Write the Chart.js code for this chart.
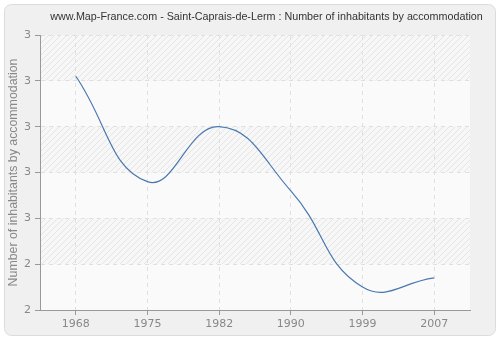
<!DOCTYPE html>
<html>
<head>
<meta charset="utf-8">
<script src="https://cdn.jsdelivr.net/npm/chart.js@4.4.7/dist/chart.umd.min.js"></script>
<style>
  html, body { margin: 0; padding: 0; background: #ffffff; }
  #wrap { width: 500px; height: 340px; position: relative; }
</style>
</head>
<body>
<div id="wrap"><canvas id="chart" width="500" height="340"></canvas></div>
<script>
  var years = ["1968", "1975", "1982", "1990", "1999", "2007"];
  var inhabitants = [2.81, 2.58, 2.70, 2.56, 2.35, 2.37];
  var tickValues = [2.3, 2.4, 2.5, 2.6, 2.7, 2.8, 2.9];
  var tickLabels = ["2", "2", "3", "3", "3", "3", "3"];

  var titleText = "www.Map-France.com - Saint-Caprais-de-Lerm : Number of inhabitants by accommodation";
  var yTitleText = "Number of inhabitants by accommodation";
  var fontFamily = "'DejaVu Sans', Verdana, sans-serif";
  var titleFamily = "'Liberation Sans', Arial, sans-serif";

  function hatchPattern(ctx) {
    var c = document.createElement("canvas");
    c.width = 6;
    c.height = 6;
    var p = c.getContext("2d");
    p.fillStyle = "#f7f7f7";
    p.fillRect(0, 0, 6, 6);
    p.strokeStyle = "#e4e4e4";
    p.lineWidth = 1;
    p.beginPath();
    p.moveTo(0, 6);
    p.lineTo(6, 0);
    p.moveTo(-3, 3);
    p.lineTo(3, -3);
    p.moveTo(3, 9);
    p.lineTo(9, 3);
    p.stroke();
    return ctx.createPattern(c, "repeat");
  }

  // font size that makes a text fit a given width
  function fitFont(ctx, text, width, base, family) {
    ctx.font = base + "px " + family;
    var w = ctx.measureText(text).width;
    return (base * width / w).toFixed(2) + "px " + family;
  }

  var backdrop = {
    id: "backdrop",
    beforeDraw: function (chart) {
      var ctx = chart.ctx;
      var area = chart.chartArea;
      var y = chart.scales.y;
      ctx.save();
      ctx.fillStyle = "#ffffff";
      ctx.fillRect(0, 0, chart.width, chart.height);

      ctx.beginPath();
      ctx.roundRect(4.5, 4.5, 491, 331, 7);
      ctx.fillStyle = "#f0f0f0";
      ctx.fill();
      ctx.strokeStyle = "#dcdcdc";
      ctx.lineWidth = 1;
      ctx.stroke();

      ctx.fillStyle = "#fafafa";
      ctx.fillRect(area.left, area.top, area.right - area.left, area.bottom - area.top);
      var pat = hatchPattern(ctx);
      for (var i = 0; i < tickValues.length - 1; i++) {
        if ((tickValues.length - 2 - i) % 2 !== 0) continue;
        var top = y.getPixelForValue(tickValues[i + 1]);
        var bot = y.getPixelForValue(tickValues[i]);
        ctx.fillStyle = pat;
        ctx.fillRect(area.left, top, area.right - area.left, bot - top);
      }

      ctx.fillStyle = "#333333";
      ctx.font = fitFont(ctx, titleText, 433, 11, titleFamily);
      ctx.textAlign = "center";
      ctx.textBaseline = "middle";
      ctx.fillText(titleText, 266.5, 17);

      ctx.fillStyle = "#888888";
      ctx.font = fitFont(ctx, yTitleText, 228, 11, titleFamily);
      ctx.translate(14, (area.top + area.bottom) / 2);
      ctx.rotate(-Math.PI / 2);
      ctx.fillText(yTitleText, 0, 0);
      ctx.restore();
    }
  };

  var axisGrid = {
    color: "#e0e0e0",
    tickColor: "#999999",
    tickLength: 5,
    tickBorderDash: [],
  };

  new Chart(document.getElementById("chart"), {
    type: "line",
    data: {
      labels: years,
      datasets: [{
        data: inhabitants,
        borderColor: "#4a78b0",
        borderWidth: 1.2,
        pointRadius: 0,
        tension: 0.45,
        fill: false,
      }],
    },
    options: {
      responsive: false,
      animation: false,
      devicePixelRatio: 1,
      layout: { padding: { top: 35, right: 30, left: 0, bottom: 0 } },
      plugins: {
        legend: { display: false },
        tooltip: { enabled: false },
      },
      scales: {
        x: {
          offset: true,
          afterFit: function (scale) { scale.height = 30; },
          border: { color: "#999999", width: 1, dash: [4, 4] },
          grid: axisGrid,
          ticks: { color: "#888888", font: { size: 11, family: fontFamily }, padding: 3, maxRotation: 0 },
        },
        y: {
          min: 2.3,
          max: 2.9,
          afterFit: function (scale) { scale.width = 40; },
          afterBuildTicks: function (scale) {
            scale.ticks = tickValues.map(function (v) { return { value: v }; });
          },
          border: { color: "#999999", width: 1, dash: [4, 4] },
          grid: axisGrid,
          ticks: {
            color: "#888888",
            font: { size: 11, family: fontFamily },
            padding: 4,
            callback: function (value, index) { return tickLabels[index]; },
          },
        },
      },
    },
    plugins: [backdrop],
  });
</script>
</body>
</html>
